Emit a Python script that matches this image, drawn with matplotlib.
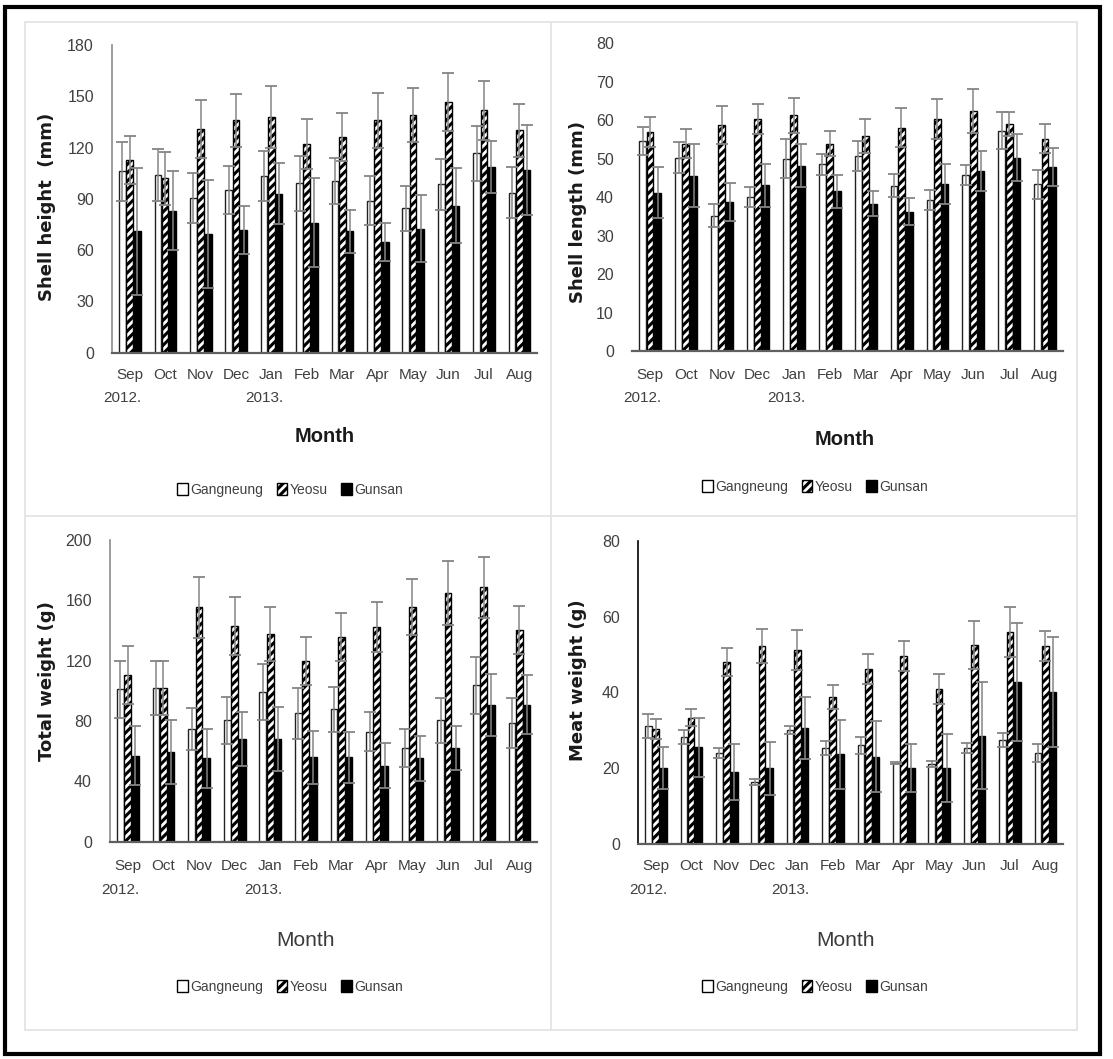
import matplotlib
matplotlib.use("Agg")
import matplotlib.pyplot as plt
from matplotlib import font_manager
from matplotlib.patches import Patch, Rectangle
from matplotlib.lines import Line2D
import numpy as np

months = ["Sep", "Oct", "Nov", "Dec", "Jan", "Feb", "Mar", "Apr", "May", "Jun", "Jul", "Aug"]
years = {0: "2012.", 4: "2013."}
sites = ["Gangneung", "Yeosu", "Gunsan"]

# Shell height (mm): mean and SD
sh_gang = [106, 104, 90.5, 95, 103.5, 99, 100.4, 89, 84.4, 98.6, 116.6, 93.6]
sh_gang_sd = [17, 15, 14.5, 14, 14.5, 16, 13.6, 14.5, 13.1, 14.9, 16, 15]
sh_yeo = [112.7, 102, 131, 136, 138, 122, 126, 136, 139, 146.6, 141.7, 130]
sh_yeo_sd = [14.3, 15.5, 17, 15.6, 18, 14.5, 14, 16, 15.6, 17.1, 17.3, 15.4]
sh_gun = [71, 83, 69.4, 72, 93, 76, 71, 64.7, 72.5, 86, 108.6, 106.8]
sh_gun_sd = [37, 23, 31.6, 14, 18, 26, 12.4, 11.3, 19.5, 22, 15.4, 26.2]

# Shell length (mm)
sl_gang = [54.6, 50.3, 35.2, 40.1, 50, 48.5, 50.7, 43, 39.3, 45.8, 57.3, 43.3]
sl_gang_sd = [3.7, 4.1, 3, 2.6, 5, 2.7, 3.9, 2.9, 2.6, 2.6, 4.8, 3.7]
sl_yeo = [57, 53.9, 58.8, 60.3, 61.3, 53.9, 55.8, 58.1, 60.3, 62.5, 59, 55.2]
sl_yeo_sd = [3.9, 3.7, 4.9, 3.9, 4.6, 3.3, 4.4, 5, 5.3, 5.7, 3.2, 3.8]
sl_gun = [41.2, 45.6, 38.7, 43.1, 48.2, 41.5, 38.3, 36.2, 43.5, 46.8, 50.3, 47.9]
sl_gun_sd = [6.7, 8.1, 4.9, 5.6, 5.5, 4.3, 3.2, 3.5, 5.2, 5.3, 6.2, 5]

# Total weight (g)
tw_gang = [101, 102, 74.5, 80.4, 99.2, 85, 87.7, 72.9, 61.9, 80.4, 103.6, 78.5]
tw_gang_sd = [18.8, 17.8, 13.9, 15.6, 18.6, 16.9, 15.1, 13.1, 12.6, 14.8, 19, 16.5]
tw_yeo = [110.5, 102, 155.4, 143.2, 137.7, 119.8, 135.7, 142.3, 155.4, 164.9, 168.6, 140.3]
tw_yeo_sd = [19.5, 17.8, 20.3, 19.2, 17.7, 15.9, 15.7, 16.7, 18.6, 21.1, 20.4, 15.9]
tw_gun = [57, 59.7, 55.2, 68.3, 68.3, 55.9, 55.9, 50.4, 55.2, 61.9, 90.8, 90.8]
tw_gun_sd = [19.5, 21.3, 19.5, 17.9, 21.2, 17.7, 17, 14.8, 14.8, 14.6, 20.4, 19.7]

# Meat weight (g)
mw_gang = [31.1, 28.2, 24, 16.3, 30.1, 25.3, 26, 21.3, 21.1, 25.3, 27.5, 24]
mw_gang_sd = [3.2, 1.8, 1.3, 0.8, 1.1, 1.8, 2.2, 0.3, 0.7, 1.3, 1.8, 2.3]
mw_yeo = [30.3, 33.3, 48, 52.2, 51.1, 38.8, 46.2, 49.5, 40.9, 52.5, 55.9, 52.2]
mw_yeo_sd = [2.7, 2.3, 3.8, 4.4, 5.3, 3.2, 4, 4, 4, 6.3, 6.7, 3.9]
mw_gun = [20, 25.5, 18.9, 20, 30.7, 23.7, 23, 20, 20, 28.6, 42.8, 40.2]
mw_gun_sd = [5.5, 7.8, 7.4, 7, 8.2, 9.1, 9.4, 6.3, 8.9, 14.1, 15.6, 14.5]

# ---------------- fonts ----------------
avail = {f.name for f in font_manager.fontManager.ttflist}
narrow = "Liberation Sans Narrow" if "Liberation Sans Narrow" in avail else "Liberation Sans"
NARROW = [narrow, "DejaVu Sans"]
TICK_FS = 11
plt.rcParams["hatch.linewidth"] = 2.2
plt.rcParams["hatch.color"] = "black"

W, H = 1113, 1059
fig = plt.figure(figsize=(W / 100, H / 100), dpi=100)


def fx(px):
    return px / W


def fy(py):
    return 1 - py / H


# frames
fig.patches.append(Rectangle((fx(5), fy(1054)), fx(1100) - fx(5), fy(7) - fy(1054),
                             transform=fig.transFigure, fill=False, ec="black", lw=3, zorder=0))
fig.patches.append(Rectangle((fx(25), fy(1030)), fx(1077) - fx(25), fy(22) - fy(1030),
                             transform=fig.transFigure, fill=False, ec="#e2e2e2", lw=1.2, zorder=0))
fig.add_artist(Line2D([fx(551), fx(551)], [fy(22), fy(1030)], transform=fig.transFigure,
                      color="#e2e2e2", lw=1.2))
fig.add_artist(Line2D([fx(25), fx(1077)], [fy(516), fy(516)], transform=fig.transFigure,
                      color="#e2e2e2", lw=1.2))

panels = [
    dict(box=(112, 537, 45, 352.7), ymax=180, step=30, data=(sh_gang, sh_gang_sd, sh_yeo, sh_yeo_sd, sh_gun, sh_gun_sd),
         ylabel="Shell height  (mm)", ylx=47, yly=207, left_spine="#8c8c8c", month_y=375, year_y=398,
         mlabel=(325, 437), mbold=True, leg=(290, 490)),
    dict(box=(632, 1063, 43.3, 351), ymax=80, step=10, data=(sl_gang, sl_gang_sd, sl_yeo, sl_yeo_sd, sl_gun, sl_gun_sd),
         ylabel="Shell length (mm)", ylx=578, yly=212, left_spine=None, month_y=375, year_y=398,
         mlabel=(845, 440), mbold=True, leg=(815, 487)),
    dict(box=(110, 537, 540, 841.7), ymax=200, step=40, data=(tw_gang, tw_gang_sd, tw_yeo, tw_yeo_sd, tw_gun, tw_gun_sd),
         ylabel="Total weight (g)", ylx=47, yly=681, left_spine="#8c8c8c", month_y=866, year_y=890,
         mlabel=(305, 940), mbold=False, leg=(290, 987)),
    dict(box=(638, 1063, 540.7, 844), ymax=80, step=20, data=(mw_gang, mw_gang_sd, mw_yeo, mw_yeo_sd, mw_gun, mw_gun_sd),
         ylabel="Meat weight (g)", ylx=578, yly=680, left_spine="black", month_y=866, year_y=890,
         mlabel=(845, 940), mbold=False, leg=(815, 987)),
]

x = np.arange(len(months))
bw = 0.19
offs = [-0.205, 0.0, 0.215]
styles = [dict(color="white", edgecolor="#222222", hatch=None),
          dict(color="white", edgecolor="black", hatch="////"),
          dict(color="black", edgecolor="black", hatch=None)]

for p in panels:
    l, r, t, b = p["box"]
    ax = fig.add_axes([fx(l), fy(b), fx(r) - fx(l), fy(t) - fy(b)])
    g, gsd, yv, ysd, gu, gusd = p["data"]
    for k, (vals, sds) in enumerate([(g, gsd), (yv, ysd), (gu, gusd)]):
        st = styles[k]
        ax.bar(x + offs[k], vals, width=bw, color=st["color"], edgecolor=st["edgecolor"],
               hatch=st["hatch"], linewidth=1.0, zorder=2)
        ax.errorbar(x + offs[k], vals, yerr=sds, fmt="none", ecolor="#858585",
                    elinewidth=1.1, capsize=4.5, capthick=1.3, zorder=3)
    ax.set_xlim(-0.5, 11.5)
    ax.set_ylim(0, p["ymax"])
    ax.set_yticks(np.arange(0, p["ymax"] + 0.1, p["step"]))
    ax.set_xticks(x)
    ax.set_xticklabels([])
    for s in ["top", "right"]:
        ax.spines[s].set_visible(False)
    if p["left_spine"] is None:
        ax.spines["left"].set_visible(False)
    else:
        ax.spines["left"].set_color(p["left_spine"])
        ax.spines["left"].set_linewidth(1.2)
    ax.spines["bottom"].set_color("#606060")
    ax.spines["bottom"].set_linewidth(1.6)
    ax.tick_params(axis="both", length=0, labelcolor="#404040")
    ax.tick_params(axis="y", pad=13)
    for lab in ax.get_yticklabels():
        lab.set_fontfamily(NARROW)
        lab.set_fontsize(TICK_FS + 0.5)
    tr = ax.transData
    inv = fig.transFigure.inverted()
    for i, m in enumerate(months):
        xd = inv.transform(tr.transform((i, 0)))[0]
        fig.text(xd, fy(p["month_y"]), m, ha="center", va="center", family=NARROW,
                 fontsize=TICK_FS, color="#404040")
    for i, yl in years.items():
        xd = inv.transform(tr.transform((i - 0.2, 0)))[0]
        fig.text(xd, fy(p["year_y"]), yl, ha="center", va="center", family=NARROW,
                 fontsize=TICK_FS, color="#404040")
    fig.text(fx(p["ylx"]), fy(p["yly"]), p["ylabel"], rotation=90, ha="center", va="center",
             fontsize=13, fontweight="bold", color="#1a1a1a", family="DejaVu Sans")
    mx, my = p["mlabel"]
    if p["mbold"]:
        fig.text(fx(mx), fy(my), "Month", ha="center", va="center", family=NARROW,
                 fontsize=14.5, fontweight="bold", color="#1a1a1a")
    else:
        fig.text(fx(mx), fy(my), "Month", ha="center", va="center", family=NARROW,
                 fontsize=15, color="#3a3a3a")
    handles = [Patch(facecolor="white", edgecolor="black", lw=1),
               Patch(facecolor="white", edgecolor="black", hatch="////", lw=1),
               Patch(facecolor="black", edgecolor="black", lw=1)]
    lx, ly = p["leg"]
    fig.legend(handles, sites, loc="center", bbox_to_anchor=(fx(lx), fy(ly)), ncol=3,
               frameon=False, prop={"family": NARROW, "size": 10}, handlelength=0.75,
               handleheight=0.9, handletextpad=0.15, columnspacing=1.0, labelcolor="#404040")

fig.savefig("out.png", dpi=100)
